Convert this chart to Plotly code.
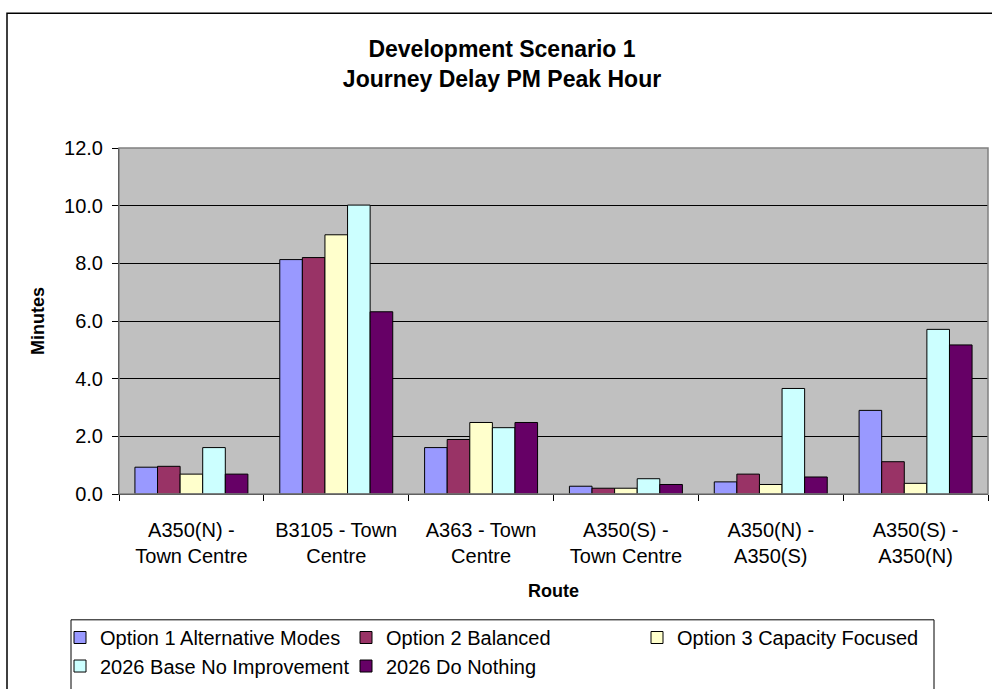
import plotly.graph_objects as go

categories = ["A350(N) -<br>Town Centre", "B3105 - Town<br>Centre", "A363 - Town<br>Centre",
              "A350(S) -<br>Town Centre", "A350(N) -<br>A350(S)", "A350(S) -<br>A350(N)"]
series_names = ["Option 1 Alternative Modes", "Option 2 Balanced", "Option 3 Capacity Focused",
                "2026 Base No Improvement", "2026 Do Nothing"]
opt1 = [0.93, 8.13, 1.61, 0.27, 0.42, 2.90]
opt2 = [0.96, 8.20, 1.89, 0.20, 0.69, 1.12]
opt3 = [0.69, 8.99, 2.48, 0.20, 0.33, 0.37]
base2026 = [1.61, 10.02, 2.30, 0.53, 3.66, 5.71]
nothing2026 = [0.69, 6.32, 2.48, 0.33, 0.59, 5.17]
values = [opt1, opt2, opt3, base2026, nothing2026]
colors = ["#9999FF", "#993366", "#FFFFCC", "#CCFFFF", "#660066"]
y_ticks = [0, 2, 4, 6, 8, 10, 12]

W, H = 992, 689
L, R, T, B = 119, 988, 148, 500
pw, ph = R - L, B - T

def px(x):
    return (x - L) / pw

def py(y):
    return (B - y) / ph

FONT = "Liberation Sans, Arial, sans-serif"
fig = go.Figure()
legend_names = ["legend", "legend2", "legend3", "legend4", "legend5"]
for name, vals, col, lg in zip(series_names, values, colors, legend_names):
    fig.add_trace(go.Bar(x=categories, y=vals, name=name, legend=lg, showlegend=True,
                         marker=dict(color=col, line=dict(color="black", width=1))))

# legend positions (pixel)
leg_pos = [(60, 646), (346, 646), (637, 646), (60, 675), (346, 675)]
layout_legends = {}
for lg, (lx, ly) in zip(legend_names, leg_pos):
    layout_legends[lg] = dict(x=px(lx), y=py(ly), xanchor="left", yanchor="middle",
                              xref="paper", yref="paper", bgcolor="rgba(0,0,0,0)",
                              font=dict(family=FONT, size=20, color="black"),
                              itemwidth=30, borderwidth=0)

fig.update_layout(
    width=W, height=H,
    margin=dict(l=L, r=W - R, t=T, b=H - B),
    paper_bgcolor="white", plot_bgcolor="#C0C0C0",
    barmode="group", bargap=0.22, bargroupgap=0,
    showlegend=True,
    font=dict(family=FONT, size=18, color="black"),
    title=dict(text="<b>Development Scenario 1<br>Journey Delay PM Peak Hour</b>",
               x=502 / W, xanchor="center", xref="container",
               y=1 - 57 / H, yanchor="top", yref="container",
               font=dict(family=FONT, size=23, color="black")),
    xaxis=dict(showline=True, linecolor="black", linewidth=1, ticks="outside",
               tickson="boundaries", ticklen=6, tickcolor="black",
               tickfont=dict(size=20), showgrid=False, ticklabelstandoff=18,
               title=dict(text="<b>Route</b>", font=dict(size=18), standoff=18)),
    yaxis=dict(range=[0, 12], tickvals=y_ticks, ticktext=[f"{v:.1f}" for v in y_ticks],
               showline=True, linecolor="black", linewidth=1, ticks="outside",
               ticklen=6, tickcolor="black", tickfont=dict(size=20), ticklabelstandoff=5,
               showgrid=True, gridcolor="black", gridwidth=1, zeroline=False,
               title=dict(text="<b>Minutes</b>", font=dict(size=18), standoff=14)),
    **layout_legends,
    shapes=[
        dict(type="rect", xref="paper", yref="paper", x0=0, x1=1, y0=0, y1=1,
             line=dict(color="#808080", width=1.5), layer="above"),
        dict(type="rect", xref="paper", yref="paper", x0=px(71), x1=px(934),
             y0=py(628), y1=py(700), line=dict(color="black", width=1)),
        dict(type="rect", xref="paper", yref="paper", x0=px(7), x1=px(1000),
             y0=py(11), y1=py(700), line=dict(color="black", width=1.5)),
    ],
)
fig.write_html("out.html")
